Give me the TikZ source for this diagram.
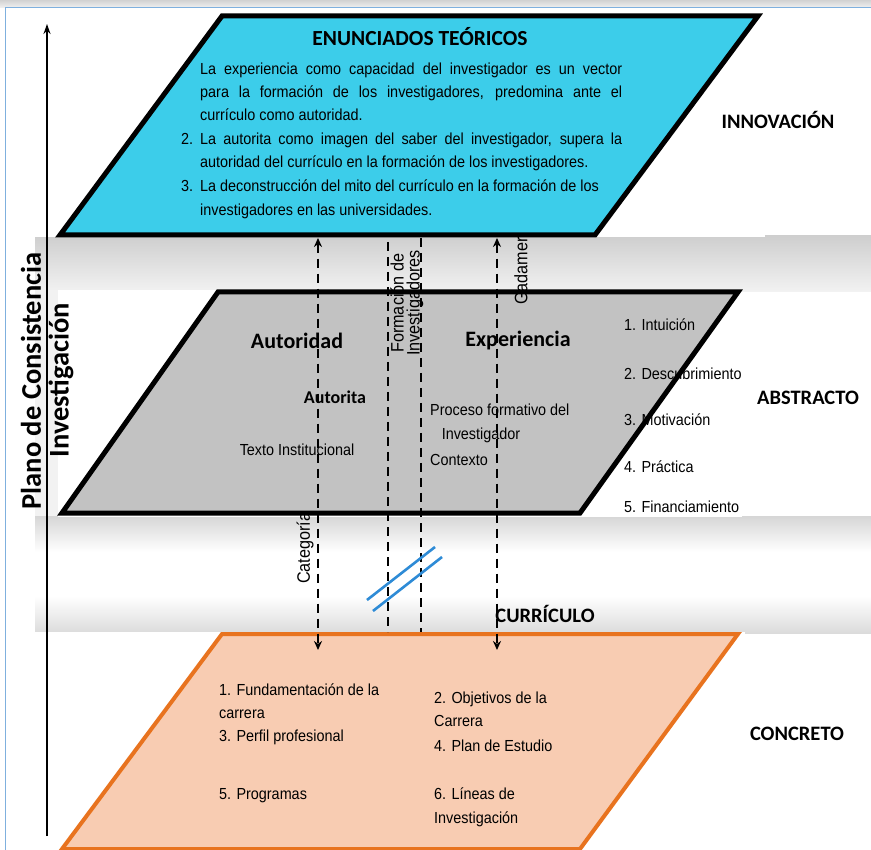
\documentclass[tikz,border=0pt]{standalone}
\usepackage{fontspec}
\setmainfont{Liberation Sans}[FakeStretch=0.9]
\newfontfamily\headfont{Carlito}
\usetikzlibrary{arrows.meta}
\definecolor{cyanfill}{HTML}{3CCDEA}
\definecolor{grayfill}{HTML}{C2C2C2}
\definecolor{peach}{HTML}{F8CCB2}
\definecolor{orangeline}{HTML}{E8731F}
\definecolor{slashblue}{HTML}{2E8BD6}
\definecolor{frameblue}{HTML}{7FB0DE}
\begin{document}
\begin{tikzpicture}[x=1pt,y=-1pt,
  body/.style={font=\fontsize{16}{19}\selectfont, inner sep=0pt, anchor=base west},
  bodyc/.style={font=\fontsize{16}{19}\selectfont, inner sep=0pt},
  rlabel/.style={font=\fontsize{18}{20}\selectfont, inner sep=0pt, rotate=90, anchor=west},
  head/.style={font=\headfont\bfseries\fontsize{20.5}{24}\selectfont, inner sep=0pt},
  bighead/.style={font=\headfont\bfseries\fontsize{22}{26}\selectfont, inner sep=0pt},
  axislabel/.style={font=\headfont\bfseries\fontsize{28.5}{32}\selectfont, inner sep=0pt, rotate=90},
  plane/.style={line width=5pt, line join=miter},
  dashline/.style={line width=2pt, dash pattern=on 9pt off 6pt},
  twotip/.style={{Stealth[length=9pt,width=8pt]}-{Stealth[length=9pt,width=8pt]}},
  slash/.style={slashblue, line width=2.6pt}
]
\useasboundingbox (0,0) rectangle (871,850);
% background and panel shadows
\fill[white] (0,0) rectangle (871,850);
\shade[top color=gray!35, bottom color=gray!10] (0,0) rectangle (871,8);
\shade[top color=gray!38, bottom color=gray!10] (35,236) rectangle (871,292);
\fill[gray!10] (35,290) rectangle (58,518);
\shade[top color=gray!32, bottom color=white] (35,516) rectangle (871,552);
\shade[top color=white, bottom color=gray!28] (35,596) rectangle (871,633);
\fill[white] (35,12) rectangle (765,237);
\fill[white] (58,290) rectangle (742,517);
\fill[white] (35,632) rectangle (745,850);
\draw[frameblue, line width=1pt] (5,850) -- (5,8) -- (871,8);

% axis
\coordinate (axbot) at (47,836);
\coordinate (axtop) at (47,24);
\draw[line width=1.6pt, -{Stealth[length=10pt,width=7pt]}] (axbot) -- (axtop);
\node[axislabel] (plano) at (31,381) {Plano de Consistencia};
\node[axislabel] (inv) at (61,380) {Investigación};

% bottom plane (concreto)
\draw[plane, orangeline, line width=4pt, fill=peach] (222,634) -- (738,634) -- (580,849) -- (62,849) -- cycle;
\node[body] (c1) at (219,695) {1. Fundamentación de la};
\node[body] (c1b) at (219,718) {carrera};
\node[body] (c3) at (219,741) {3. Perfil profesional};
\node[body] (c5) at (219,799) {5. Programas};
\node[body] (c2) at (434,703) {2. Objetivos de la};
\node[body] (c2b) at (434,726) {Carrera};
\node[body] (c4) at (434,751) {4. Plan de Estudio};
\node[body] (c6) at (434,799) {6. Líneas de};
\node[body] (c6b) at (434,823) {Investigación};
\node[head] (concreto) at (797,734) {CONCRETO};
\node[head] (curriculo) at (545,614) {CURRÍCULO};

% label hidden partly behind middle plane
\node[rlabel] (categ) at (305,584) {Categoría};

% middle plane (abstracto)
\fill[grayfill] (218,292) -- (738,292) -- (580,513) -- (62,513) -- cycle;
\node[bighead] (autoridad) at (297,341) {Autoridad};
\node[bighead] (experiencia) at (518,341) {Experiencia};
\node[head, font=\headfont\bfseries\fontsize{18}{21}\selectfont] (autorita) at (335,397) {Autorita};
\node[bodyc] (texto) at (297,450) {Texto Institucional};
\node[body] (proc) at (430,416) {Proceso formativo del};
\node[bodyc, anchor=base] (investigador) at (481,440) {Investigador};
\node[body] (contexto) at (430,466) {Contexto};
\node[body] (l1) at (624,331) {1. Intuición};
\node[body] (l2) at (624,380) {2. Descubrimiento};
\node[body] (l3) at (624,426) {3. Motivación};
\node[body] (l4) at (624,473) {4. Práctica};
\node[body] (l5) at (624,512) {5. Financiamiento};
\draw[plane] (218,292) -- (738,292) -- (580,513) -- (62,513) -- cycle;
\node[head] (abstracto) at (808,398) {ABSTRACTO};

% labels partly hidden behind top plane
\node[rlabel] (form1) at (397,353) {Formación de};
\node[rlabel] (form2) at (415,356) {Investigadores};
\node[rlabel] (gadamer) at (521,305) {Gadamer};

% top plane (innovación)
\draw[plane, fill=cyanfill] (222,16) -- (758,16) -- (595,235) -- (60,235) -- cycle;
\node[bighead, font=\headfont\bfseries\fontsize{21.5}{24}\selectfont] (enun) at (420,37) {ENUNCIADOS TEÓRICOS};
\node[body] (t1a) at (200,75) {\makebox[422pt][s]{La experiencia como capacidad del investigador es un vector}};
\node[body] (t1b) at (200,98) {\makebox[422pt][s]{para la formación de los investigadores, predomina ante el}};
\node[body] (t1c) at (200,121) {currículo como autoridad.};
\node[body] (n2) at (181,145) {2.};
\node[body] (t2a) at (200,145) {\makebox[422pt][s]{La autorita como imagen del saber del investigador, supera la}};
\node[body] (t2b) at (200,168) {autoridad del currículo en la formación de los investigadores.};
\node[body] (n3) at (181,192) {3.};
\node[body] (t3a) at (200,192) {La deconstrucción del mito del currículo en la formación de los};
\node[body] (t3b) at (200,216) {investigadores en las universidades.};
\node[head] (innov) at (778,120) {INNOVACIÓN};

% connectors
\coordinate (d1t) at (318,238);
\coordinate (d1b) at (318,650);
\coordinate (d2t) at (388,242);
\coordinate (d2b) at (388,632);
\coordinate (d3t) at (421,238);
\coordinate (d3b) at (421,632);
\coordinate (d4t) at (497,238);
\coordinate (d4b) at (497,650);
\draw[dashline, twotip] (d1t) -- (d1b);
\draw[dashline] (d2t) -- (d2b);
\draw[dashline] (d3t) -- (d3b);
\draw[dashline, twotip] (d4t) -- (d4b);

% break marks
\coordinate (s1a) at (367,600);
\coordinate (s1b) at (435,547);
\coordinate (s2a) at (373,611);
\coordinate (s2b) at (442,557);
\draw[slash] (s1a) -- (s1b);
\draw[slash] (s2a) -- (s2b);
\end{tikzpicture}
\end{document}
